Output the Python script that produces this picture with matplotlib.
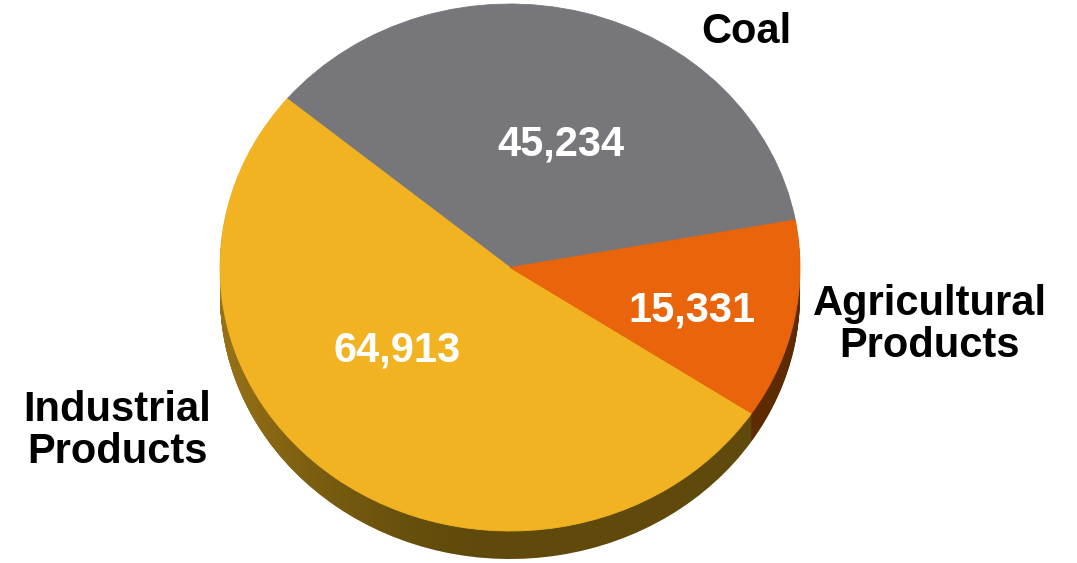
import numpy as np
import matplotlib
matplotlib.use('Agg')
import matplotlib.pyplot as plt
from matplotlib.path import Path
from matplotlib.transforms import Affine2D
from matplotlib.colors import LinearSegmentedColormap

plt.rcParams['font.family'] = ['Liberation Sans', 'DejaVu Sans']

categories = ['Coal', 'Industrial\nProducts', 'Agricultural\nProducts']
values = [45234, 64913, 15331]
value_labels = ['45,234', '64,913', '15,331']

top_colors = ['#77777b', '#f2b322', '#e9640a']
side_colors = ['#4a4a4c', '#5f4a0c', '#5e2a00']

W, H = 1077, 563
cx, cy = 510, 267.5
rx, ry = 290, 263.5
start = 10.4
depth_px = 28

fig = plt.figure(figsize=(W / 100, H / 100), dpi=100)
ax = fig.add_axes([0, 0, 1, 1])

# stacked copies make the pie's edge
offsets = np.arange(depth_px, 0, -1) / ry
for off in offsets:
    ax.pie(values, colors=side_colors, startangle=start, center=(0, -off),
           wedgeprops={'linewidth': 0, 'zorder': 1})

# left part of the edge gets lighter
shade = LinearSegmentedColormap.from_list('shade', [(0.60, 0.45, 0.09, 1.0), (0.50, 0.38, 0.07, 0.55), (0.37, 0.29, 0.05, 0.0)])
grad = np.linspace(0, 1, 256).reshape(1, -1)
im = ax.imshow(grad, cmap=shade, extent=(-1.0, 0.0, -1.2, 0.2), aspect='auto', zorder=2)
clip = Path.make_compound_path(*[Path.unit_circle().transformed(Affine2D().translate(0, -o)) for o in offsets])
im.set_clip_path(clip, ax.transData)

wedges, _ = ax.pie(values, colors=top_colors, startangle=start, center=(0, 0),
                   wedgeprops={'linewidth': 0.6, 'zorder': 3})
for w, c in zip(wedges, top_colors):
    w.set_edgecolor(c)

ax.set_aspect('auto')
ax.set_xlim(-cx / rx, (W - cx) / rx)
ax.set_ylim(-(H - cy) / ry, cy / ry)
ax.axis('off')


def put(x, y, s, color):
    fig.text(x / W, 1 - y / H, s, color=color, fontsize=30, fontweight='bold',
             ha='center', va='center', linespacing=1.08, zorder=5)


label_pos = [(746, 32), (117, 431), (930, 325)]
value_pos = [(561, 145), (397, 351), (692, 310)]
for name, p in zip(categories, label_pos):
    put(p[0], p[1], name, 'black')
for txt, p in zip(value_labels, value_pos):
    put(p[0], p[1], txt, 'white')

fig.savefig('out.png', dpi=100, facecolor='white')
